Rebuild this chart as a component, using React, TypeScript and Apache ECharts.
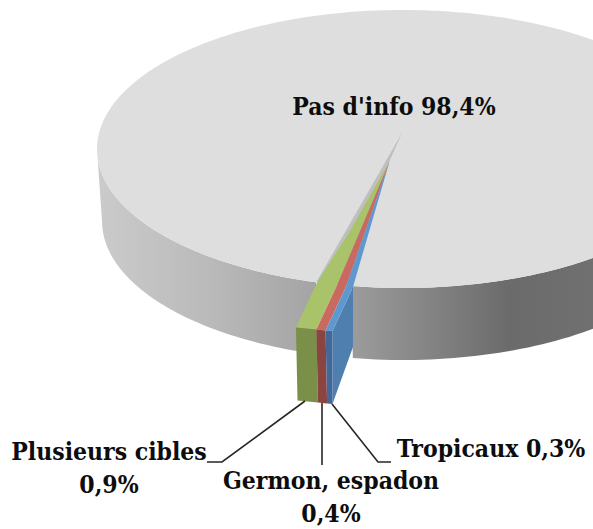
import React, { useEffect, useRef } from "react";
import * as echarts from "echarts";

const categories = ["Pas d'info", "Plusieurs cibles", "Germon, espadon", "Tropicaux"];
const labelNames = ["Pas d'info", "Plusieurs cibles\n", "Germon, espadon\n", "Tropicaux"];
const values = [98.4, 0.9, 0.4, 0.3];
const topColors = ["#dedede", "#a9c36b", "#c9695f", "#5f97cf"];
const sideColors = ["#a0a0a0", "#7a9049", "#8b4440", "#42689a"];
const labelPositions = [[394, 106], [109, 468], [331, 497], [491, 448]];
const leaderLines = [
  null,
  [[305, 401], [222, 462], [207, 462]],
  [[322, 403], [322, 465]],
  [[332, 404], [378, 462], [391, 462]],
];

const rad = (d: number) => (d * Math.PI) / 180;
const total = values.reduce((a, b) => a + b, 0);
const FONT = "'DejaVu Serif Condensed', 'DejaVu Serif', 'Liberation Serif'";

type Pt = [number, number];

function arc(cx: number, cy: number, rx: number, ry: number, a0: number, a1: number): Pt[] {
  const n = Math.max(2, Math.ceil(Math.abs(a1 - a0) / 1.5));
  const out: Pt[] = [];
  for (let i = 0; i <= n; i++) {
    const a = rad(a0 + ((a1 - a0) * i) / n);
    out.push([cx + rx * Math.sin(a), cy + ry * Math.cos(a)]);
  }
  return out;
}

const poly = (points: Pt[], fill: any) => ({
  type: "polygon",
  shape: { points },
  style: { fill, stroke: null },
});

const grad = (x0: number, x1: number, stops: [number, string][]) =>
  new echarts.graphic.LinearGradient(
    x0, 0, x1, 0,
    stops.map(([offset, color]) => ({ offset, color })),
    true
  );

function renderItem(params: any) {
  const i = params.dataIndex;
  const children: any[] = [];
  const apex: Pt = [389.5, 161.5];
  const cumBefore = values.slice(1, i).reduce((a, b) => a + b, 0);

  const sliceStart = -14.68;
  const sliceEdge = (cum: number): Pt => {
    const a = rad(sliceStart + (cum / total) * 360);
    return [apex[0] + 0.5 + 371 * Math.sin(a), apex[1] + 0.5 + 171 * Math.cos(a)];
  };
  const bend = (p: Pt): Pt => [p[0] + 20.5, p[1] - 44];

  if (i === 0) {
    const cx = 403, cy = 149, rx = 306, ry = 139;
    const bcy = 221, brx = 301;
    const gap = ((total - values[0]) / total) * 360 * 1.2;
    const a0 = -9.6;
    const a1 = a0 + 360 - gap;
    const left = arc(cx, cy, rx, ry, -90, a1 - 360);
    const right = arc(cx, cy, rx, ry, a0, 90);
    children.push(
      poly(
        [...left, ...arc(cx, bcy, brx, ry, a1 - 360, -90)],
        grad(97, 320, [[0, "#cbcbcb"], [0.5, "#bababa"], [1, "#a3a3a3"]])
      )
    );
    children.push(
      poly(
        [...right, ...arc(cx, bcy, brx, ry, 90, a0)],
        grad(352, 593, [[0, "#9c9c9c"], [0.65, "#6b6b6b"], [1, "#707070"]])
      )
    );
    const topArc = arc(cx, cy, rx, ry, a0, a1);
    const centerApex: Pt = [403.5, 130];
    children.push(poly([centerApex, apex, ...topArc], topColors[0]));
    children.push(
      poly([centerApex, topArc[topArc.length - 1], topArc[0], apex], "#bfbfbf")
    );
  } else {
    const o0 = sliceEdge(cumBefore);
    const o1 = sliceEdge(cumBefore + values[i]);
    if (i === values.length - 1) {
      const b = bend(o1);
      children.push(
        poly(
          [o1, b, [b[0], b[1] + 60], [o1[0], o1[1] + 73]],
          "#4f7fae"
        )
      );
    }
    const b0 = bend(o0);
    const leftEdge: Pt[] =
      i === 1
        ? [[apex[0] + (b0[0] - apex[0]) * 0.6 + 2, apex[1] + (b0[1] - apex[1]) * 0.6], b0]
        : [b0];
    children.push(poly([apex, ...leftEdge, o0, o1, bend(o1)], topColors[i]));
    children.push(
      poly(
        [o0, o1, [o1[0] + (i === 3 ? 0 : 1.5), o1[1] + 73], [o0[0] + 1.5, o0[1] + 73]],
        sideColors[i]
      )
    );
  }

  const line = leaderLines[i];
  if (line) {
    children.push({
      type: "polyline",
      shape: { points: line },
      style: { stroke: "#262626", lineWidth: 1.6, fill: null },
    });
  }
  return { type: "group", children };
}

function labelItems() {
  return values.map((v, i) => {
    const pct = v.toFixed(1).replace(".", ",") + "%";
    const sep = labelNames[i].endsWith("\n") ? "" : " ";
    return {
      type: "text",
      x: labelPositions[i][0],
      y: labelPositions[i][1],
      z: 100,
      silent: true,
      style: {
        text: labelNames[i] + sep + pct,
        fontFamily: FONT,
        fontWeight: "bold",
        fontSize: 24.5,
        lineHeight: 33,
        fill: "#0d0d0d",
        textAlign: "center",
        textVerticalAlign: "middle",
      },
    };
  });
}

export default function App() {
  const ref = useRef<HTMLDivElement>(null);
  useEffect(() => {
    const chart = echarts.init(ref.current!, null, { renderer: "svg" });
    chart.setOption({
      animation: false,
      backgroundColor: "#ffffff",
      series: [
        {
          type: "custom",
          coordinateSystem: "none",
          silent: true,
          data: values.map((v, i) => ({ name: categories[i], value: v })),
          renderItem,
        },
      ],
      graphic: labelItems(),
    });
    return () => chart.dispose();
  }, []);
  return (
    <div
      ref={ref}
      style={{ position: "absolute", left: 0, top: 0, width: 593, height: 529, overflow: "hidden" }}
    />
  );
}
